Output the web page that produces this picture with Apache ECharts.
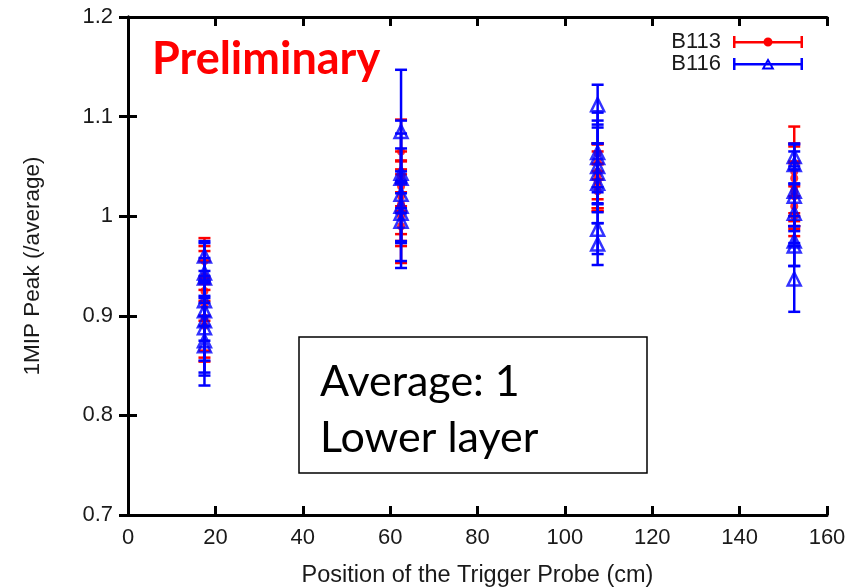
<!DOCTYPE html>
<html>
<head>
<meta charset="utf-8">
<script src="https://cdn.jsdelivr.net/npm/echarts@6/dist/echarts.min.js"></script>
<style>
  html, body { margin: 0; padding: 0; background: #fff; }
  #chart { width: 868px; height: 587px; }
</style>
</head>
<body>
<div id="chart"></div>
<script>
// B113 (red, circles): position, value, error
const b113X = [17.5, 17.5, 17.5, 17.5, 17.5, 17.5, 17.5,
  62.5, 62.5, 62.5, 62.5, 62.5, 62.5, 62.5, 62.5,
  107.5, 107.5, 107.5, 107.5, 107.5, 107.5, 107.5,
  152.5, 152.5, 152.5, 152.5, 152.5, 152.5, 152.5];
const b113Y = [0.955, 0.940, 0.935, 0.925, 0.910, 0.898, 0.890,
  1.065, 1.040, 1.030, 1.020, 1.012, 1.005, 1.000, 0.990,
  1.063, 1.055, 1.045, 1.040, 1.035, 1.030, 1.025,
  1.045, 1.038, 1.030, 1.025, 1.020, 1.010, 1.000];
const b113Err = [0.023, 0.025, 0.035, 0.030, 0.045, 0.040, 0.036,
  0.032, 0.016, 0.025, 0.045, 0.030, 0.030, 0.047, 0.020,
  0.010, 0.018, 0.028, 0.032, 0.030, 0.022, 0.020,
  0.045, 0.035, 0.040, 0.030, 0.033, 0.020, 0.020];

// B116 (blue, triangles): position, value, error
const b116X = [17.5, 17.5, 17.5, 17.5, 17.5, 17.5, 17.5, 17.5, 17.5,
  62.5, 62.5, 62.5, 62.5, 62.5, 62.5, 62.5,
  107.5, 107.5, 107.5, 107.5, 107.5, 107.5, 107.5, 107.5,
  152.5, 152.5, 152.5, 152.5, 152.5, 152.5, 152.5, 152.5];
const b116Y = [0.960, 0.943, 0.938, 0.915, 0.905, 0.895, 0.888, 0.875, 0.870,
  1.085, 1.043, 1.038, 1.022, 1.010, 1.003, 0.995,
  1.112, 1.064, 1.059, 1.050, 1.043, 1.033, 0.987, 0.972,
  1.060, 1.052, 1.025, 1.020, 1.003, 0.975, 0.970, 0.937];
const b116Err = [0.015, 0.030, 0.020, 0.025, 0.030, 0.040, 0.045, 0.045, 0.030,
  0.062, 0.040, 0.030, 0.074, 0.035, 0.030, 0.040,
  0.020, 0.040, 0.030, 0.046, 0.030, 0.040, 0.025, 0.021,
  0.013, 0.020, 0.040, 0.030, 0.030, 0.025, 0.020, 0.033];

const xTicks = { min: 0, max: 160, interval: 20 };
const yTicks = { min: 0.7, max: 1.2, interval: 0.1 };

const RED = '#ff0000';
const BLUE = '#0000ff';
const FONT = 'Liberation Sans';

function errData(xs, ys, es) {
  return xs.map((x, i) => [x, ys[i], ys[i] - es[i], ys[i] + es[i]]);
}

function errorBars(color) {
  return function (params, api) {
    const x = api.value(0);
    const lo = api.coord([x, api.value(2)]);
    const hi = api.coord([x, api.value(3)]);
    const w = 6;
    const style = { stroke: color, lineWidth: 2.5, fill: null };
    return {
      type: 'group',
      children: [
        { type: 'line', shape: { x1: lo[0], y1: lo[1], x2: hi[0], y2: hi[1] }, style: style },
        { type: 'line', shape: { x1: lo[0] - w, y1: lo[1], x2: lo[0] + w, y2: lo[1] }, style: style },
        { type: 'line', shape: { x1: hi[0] - w, y1: hi[1], x2: hi[0] + w, y2: hi[1] }, style: style }
      ]
    };
  };
}

// legend samples: line with end caps and marker
const iconCircle = 'path://M0,5h70v2.5h-70z M0,0h2.5v12h-2.5z M67.5,0h2.5v12h-2.5z M30.5,6a4.5,4.5 0 1,1 9,0a4.5,4.5 0 1,1 -9,0z';
const iconTriangle = 'path://M0,5h70v2.5h-70z M0,0h2.5v12h-2.5z M67.5,0h2.5v12h-2.5z M35,0L41.5,11.5L28.5,11.5z M35,4L31.8,9.6L38.2,9.6z';

const myChart = echarts.init(document.getElementById('chart'));

const axisLine = { show: true, lineStyle: { color: '#000', width: 3 } };
const axisTick = { show: true, inside: true, length: 9, lineStyle: { color: '#000', width: 3 } };
const labelStyle = { color: '#1a1a1a', fontFamily: FONT, fontSize: 22 };

myChart.setOption({
  animation: false,
  grid: { left: 128, right: 41, top: 17, bottom: 72, outerBoundsMode: 'none', containLabel: false },
  xAxis: [
    {
      type: 'value', min: xTicks.min, max: xTicks.max, interval: xTicks.interval,
      position: 'bottom',
      axisLine: axisLine, axisTick: axisTick, splitLine: { show: false },
      axisLabel: Object.assign({ margin: 12 }, labelStyle),
      name: 'Position of the Trigger Probe (cm)', nameLocation: 'middle', nameGap: 49,
      nameTextStyle: Object.assign({}, labelStyle, { fontSize: 23.5 })
    },
    {
      type: 'value', min: xTicks.min, max: xTicks.max, interval: xTicks.interval,
      position: 'top',
      axisLine: axisLine, axisTick: axisTick, splitLine: { show: false },
      axisLabel: { show: false }
    }
  ],
  yAxis: [
    {
      type: 'value', min: yTicks.min, max: yTicks.max, interval: yTicks.interval,
      position: 'left',
      axisLine: axisLine, axisTick: axisTick, splitLine: { show: false },
      axisLabel: Object.assign({ margin: 15 }, labelStyle),
      name: '1MIP Peak (/average)', nameLocation: 'middle', nameGap: 84,
      nameTextStyle: Object.assign({}, labelStyle, { fontSize: 22.5 })
    },
    {
      type: 'value', min: yTicks.min, max: yTicks.max, interval: yTicks.interval,
      position: 'right',
      axisLine: axisLine, axisTick: axisTick, splitLine: { show: false },
      axisLabel: { show: false }
    }
  ],
  legend: {
    orient: 'vertical',
    right: 60,
    top: 26,
    align: 'right',
    itemWidth: 70,
    itemHeight: 12,
    itemGap: 0,
    textStyle: { color: '#1a1a1a', fontFamily: FONT, fontSize: 22, padding: [0, 7, 0, 0] },
    data: [
      { name: 'B113', icon: iconCircle, itemStyle: { color: RED } },
      { name: 'B116', icon: iconTriangle, itemStyle: { color: BLUE } }
    ]
  },
  graphic: [
    {
      type: 'text', left: 152, top: 37, z: 10,
      style: { text: 'Preliminary', fill: RED, font: 'bold 45px Lato' }
    },
    {
      type: 'rect', shape: { x: 299, y: 337, width: 348, height: 136 }, z: 10,
      style: { fill: '#fff', stroke: '#000', lineWidth: 1.5 }
    },
    {
      type: 'text', x: 320, y: 382, z: 11,
      style: { text: 'Average: 1', fill: '#000', font: '43px Lato', verticalAlign: 'middle' }
    },
    {
      type: 'text', x: 320, y: 438, z: 11,
      style: { text: 'Lower layer', fill: '#000', font: '43px Lato', verticalAlign: 'middle' }
    }
  ],
  series: [
    {
      name: 'B113', type: 'custom', renderItem: errorBars(RED),
      data: errData(b113X, b113Y, b113Err), z: 2,
      encode: { x: 0, y: [1, 2, 3] }, itemStyle: { color: RED }
    },
    {
      name: 'B113', type: 'scatter', symbol: 'circle', symbolSize: 8,
      data: b113X.map((x, i) => [x, b113Y[i]]), z: 3,
      itemStyle: { color: RED }
    },
    {
      name: 'B116', type: 'custom', renderItem: errorBars(BLUE),
      data: errData(b116X, b116Y, b116Err), z: 4,
      encode: { x: 0, y: [1, 2, 3] }, itemStyle: { color: BLUE }
    },
    {
      name: 'B116', type: 'scatter', symbol: 'triangle', symbolSize: 13,
      data: b116X.map((x, i) => [x, b116Y[i]]), z: 5,
      itemStyle: { color: 'rgba(0,0,0,0)', borderColor: BLUE, borderWidth: 2.5 }
    }
  ]
});
</script>
</body>
</html>
